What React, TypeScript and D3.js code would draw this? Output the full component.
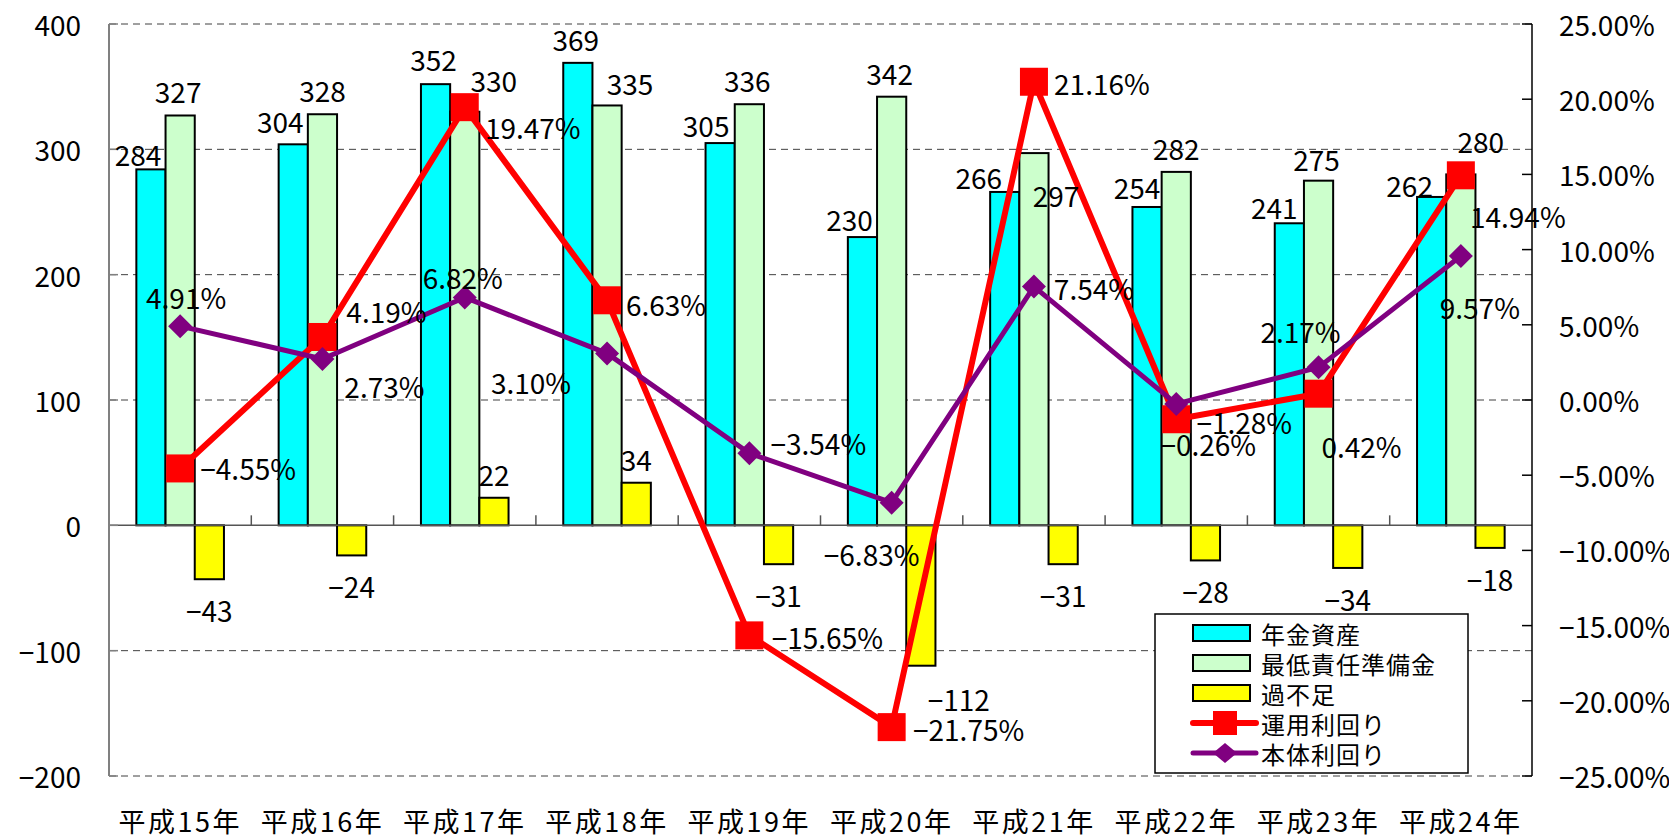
import * as d3 from "d3";
import React from "react";

// categories and series
const categories = ["平成15年", "平成16年", "平成17年", "平成18年", "平成19年", "平成20年", "平成21年", "平成22年", "平成23年", "平成24年"];
const pensionAssets = [284, 304, 352, 369, 305, 230, 266, 254, 241, 262];
const minReserve = [327, 328, 330, 335, 336, 342, 297, 282, 275, 280];
const surplus = [-43, -24, 22, 34, -31, -112, -31, -28, -34, -18];
const investReturn = [-4.55, 4.19, 19.47, 6.63, -15.65, -21.75, 21.16, -1.28, 0.42, 14.94];
const bodyReturn = [4.91, 2.73, 6.82, 3.1, -3.54, -6.83, 7.54, -0.26, 2.17, 9.57];
const leftTicks = [-200, -100, 0, 100, 200, 300, 400];
const rightTicks = [-25, -20, -15, -10, -5, 0, 5, 10, 15, 20, 25];

// label nudges (label placement only)
const cyanNudge = [[-13, 9], [-13, 1], [-2, -1], [-2, 0], [-14, 6], [-13, 6], [-26, 9], [-10, 4], [-15, 8], [-22, 12]];
const greenNudge = [[-2, 0], [0, 0], [29, -8], [23, 2], [-2, 0], [-2, 0], [22, 66], [0, 0], [-2, 2], [20, -9]];
const yellowNudge = [[0, 0], [0, 0], [0, 0], [0, 0], [0, 0], [38, 2], [0, 0], [0, 0], [0, 0], [0, 0]];
const redNudge = [[68, 0], [64, -26], [68, 20], [59, 4], [78, 2], [77, 2], [68, 1], [68, 3], [43, 52], [57, 41]];
const purpleNudge = [[6, -29], [62, 27], [-2, -20], [-76, 29], [69, -10], [-20, 51], [60, 1], [32, 40], [-18, -36], [19, 51]];

const W = 1669;
const H = 837;
const left = 109;
const right = 1532;
const top = 24;
const bottom = 776;
const font = "'Noto Sans CJK JP', 'Noto Sans', sans-serif";

const minus = (s: string) => s.replace("-", "\u2212");

const App = () => {
  const x0 = d3.scaleBand().domain(categories).range([left, right]).padding(0);
  const bw = x0.bandwidth();
  const groupW = 87.6;
  const x1 = d3
    .scaleBand()
    .domain(["a", "b", "c"])
    .range([(bw - groupW) / 2, (bw + groupW) / 2]);
  const yL = d3.scaleLinear().domain([-200, 400]).range([bottom, top]);
  const yR = d3.scaleLinear().domain([-25, 25]).range([bottom, top]);
  const cx = (i: number) => (x0(categories[i]) as number) + bw / 2;

  const line = d3
    .line<number>()
    .x((d, i) => cx(i))
    .y((d) => yR(d));

  const series = [
    { key: "a", data: pensionAssets, fill: "#00FFFF", nudge: cyanNudge },
    { key: "b", data: minReserve, fill: "#CCFFCC", nudge: greenNudge },
    { key: "c", data: surplus, fill: "#FFFF00", nudge: yellowNudge },
  ];

  const diamond = (x: number, y: number, r: number, ry: number) =>
    `M${x},${y - ry}L${x + r},${y}L${x},${y + ry}L${x - r},${y}Z`;

  const legendItems = ["年金資産", "最低責任準備金", "過不足", "運用利回り", "本体利回り"];

  return (
    <svg
      width={W}
      height={H}
      style={{ position: "absolute", left: 0, top: 0, background: "#fff" }}
      fontFamily={font}
    >
      {/* gridlines */}
      {leftTicks
        .filter((t) => t !== 0)
        .map((t) => (
          <line key={"g" + t} x1={left} x2={right} y1={yL(t)} y2={yL(t)} stroke="#404040" strokeWidth={1} strokeDasharray="7 5" />
        ))}

      {/* bars */}
      {series.map((s) =>
        s.data.map((v, i) => {
          const x = (x0(categories[i]) as number) + (x1(s.key) as number);
          const y = yL(Math.max(0, v));
          const h = Math.abs(yL(v) - yL(0));
          return (
            <rect key={s.key + i} x={x} y={y} width={x1.bandwidth()} height={h} fill={s.fill} stroke="#000" strokeWidth={2} />
          );
        })
      )}

      {/* zero line and category ticks */}
      <line x1={left} x2={right} y1={yL(0)} y2={yL(0)} stroke="#555" strokeWidth={1.5} />
      {categories.slice(1).map((c) => (
        <line key={"ct" + c} x1={x0(c)} x2={x0(c)} y1={yL(0)} y2={yL(0) - 10} stroke="#555" strokeWidth={1.5} />
      ))}

      {/* left axis */}
      <line x1={left} x2={left} y1={top} y2={bottom} stroke="#808080" strokeWidth={2} />
      {leftTicks.map((t) => (
        <g key={"l" + t}>
          <line x1={left} x2={left + 9} y1={yL(t)} y2={yL(t)} stroke="#808080" strokeWidth={1.5} />
          <text x={81} y={yL(t)} textAnchor="end" dominantBaseline="central" fontSize={28}>
            {minus(String(t))}
          </text>
        </g>
      ))}

      {/* right axis */}
      <line x1={right} x2={right} y1={top} y2={bottom} stroke="#000" strokeWidth={1.5} />
      {rightTicks.map((t) => (
        <g key={"r" + t}>
          <line x1={right - 10} x2={right} y1={yR(t)} y2={yR(t)} stroke="#000" strokeWidth={1.5} />
          <text x={1559} y={yR(t)} textAnchor="start" dominantBaseline="central" fontSize={28}>
            {minus(t.toFixed(2) + "%")}
          </text>
        </g>
      ))}

      {/* lines */}
      <path d={line(investReturn) as string} fill="none" stroke="#FF0000" strokeWidth={6} strokeLinejoin="round" />
      <path d={line(bodyReturn) as string} fill="none" stroke="#800080" strokeWidth={5} strokeLinejoin="round" />
      {investReturn.map((v, i) => (
        <rect key={"rm" + i} x={cx(i) - 14} y={yR(v) - 14} width={28} height={28} fill="#FF0000" />
      ))}
      {bodyReturn.map((v, i) => (
        <path key={"pm" + i} d={diamond(cx(i), yR(v), 12, 12)} fill="#800080" />
      ))}

      {/* bar labels */}
      {series.map((s) =>
        s.data.map((v, i) => {
          const bx = (x0(categories[i]) as number) + (x1(s.key) as number) + x1.bandwidth() / 2;
          const by = v >= 0 ? yL(v) - 24 : yL(v) + 31;
          return (
            <text
              key={"bl" + s.key + i}
              x={bx + s.nudge[i][0]}
              y={by + s.nudge[i][1]}
              textAnchor="middle"
              dominantBaseline="central"
              fontSize={28}
            >
              {minus(String(v))}
            </text>
          );
        })
      )}

      {/* line labels */}
      {investReturn.map((v, i) => (
        <text key={"rl" + i} x={cx(i) + redNudge[i][0]} y={yR(v) + redNudge[i][1]} textAnchor="middle" dominantBaseline="central" fontSize={28}>
          {minus(v.toFixed(2) + "%")}
        </text>
      ))}
      {bodyReturn.map((v, i) => (
        <text key={"pl" + i} x={cx(i) + purpleNudge[i][0]} y={yR(v) + purpleNudge[i][1]} textAnchor="middle" dominantBaseline="central" fontSize={28}>
          {minus(v.toFixed(2) + "%")}
        </text>
      ))}

      {/* category labels */}
      {categories.map((c) => (
        <text key={"x" + c} x={(x0(c) as number) + bw / 2} y={820} textAnchor="middle" dominantBaseline="central" fontSize={27} letterSpacing={2.5}>
          {c}
        </text>
      ))}

      {/* legend */}
      <g>
        <rect x={1155} y={614} width={313} height={159} fill="#fff" stroke="#000" strokeWidth={1.5} />
        {legendItems.map((name, i) => {
          const ly = 633 + i * 30;
          return (
            <g key={"lg" + i}>
              {i < 3 ? (
                <rect x={1193} y={ly - 8} width={57} height={16} fill={series[i].fill} stroke="#000" strokeWidth={2} />
              ) : i === 3 ? (
                <g>
                  <line x1={1193} x2={1256} y1={ly} y2={ly} stroke="#FF0000" strokeWidth={6} strokeLinecap="round" />
                  <rect x={1213} y={ly - 12} width={24} height={24} fill="#FF0000" />
                </g>
              ) : (
                <g>
                  <line x1={1193} x2={1256} y1={ly} y2={ly} stroke="#800080" strokeWidth={5} strokeLinecap="round" />
                  <path d={diamond(1225, ly, 12, 10)} fill="#800080" />
                </g>
              )}
              <text x={1261} y={ly} dominantBaseline="central" fontSize={24} letterSpacing={1}>
                {name}
              </text>
            </g>
          );
        })}
      </g>
    </svg>
  );
};

export default App;
